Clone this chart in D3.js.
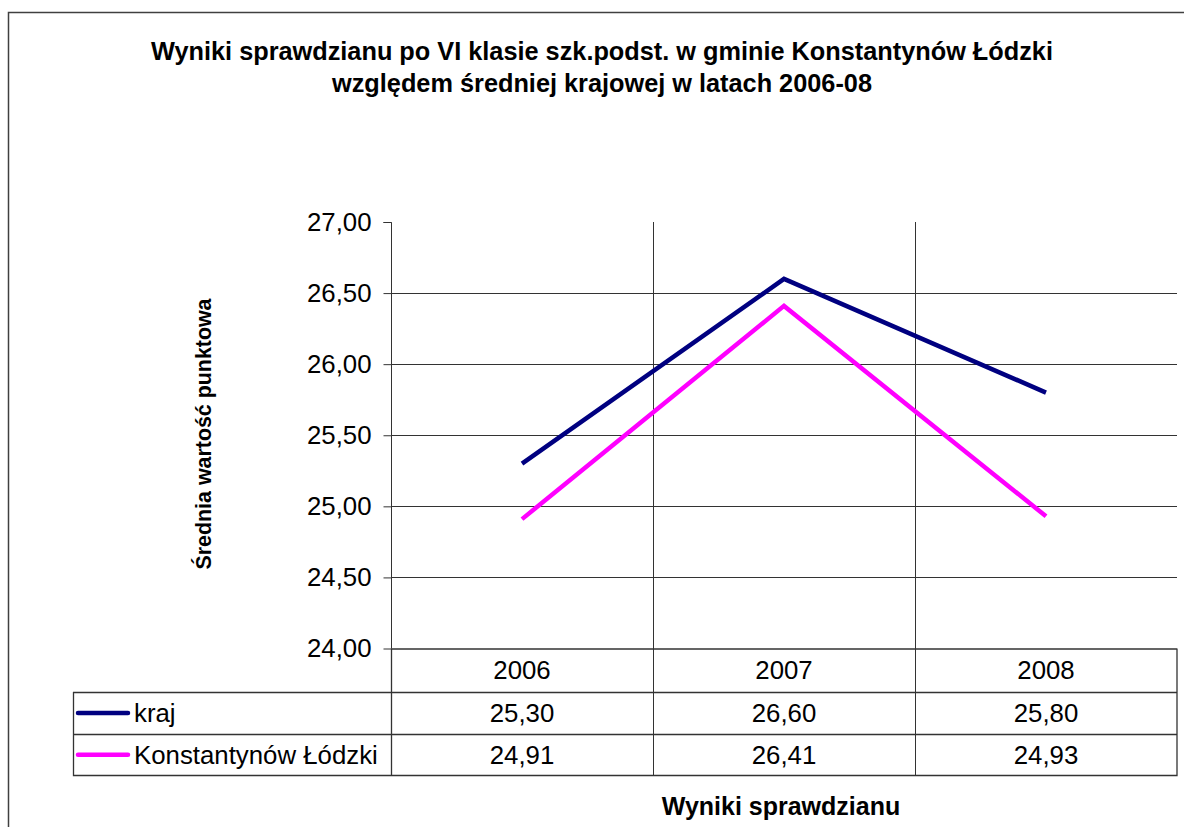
<!DOCTYPE html>
<html>
<head>
<meta charset="utf-8">
<script src="https://cdn.jsdelivr.net/npm/d3@7"></script>
<style>
  body { margin: 0; background: #fff; }
  svg { display: block; font-family: "Liberation Sans", Arial, sans-serif; }
</style>
</head>
<body>
<div id="chart"></div>
<script>
const width = 1184;
const height = 827;

// dane
const years = ["2006", "2007", "2008"];
const krajValues = [25.30, 26.60, 25.80];
const konstValues = [24.91, 26.41, 24.93];
const yTicks = [24.0, 24.5, 25.0, 25.5, 26.0, 26.5, 27.0];
const series = [
  { name: "kraj", values: krajValues, color: "#000080" },
  { name: "Konstantynów Łódzki", values: konstValues, color: "#ff00ff" }
];

const plot = { left: 391, right: 1177, top: 222, bottom: 648.5 };
const tableLeft = 73;
const rowH = [43.5, 42, 41.5];

const fmt = v => d3.format(".2f")(v).replace(".", ",");

const svg = d3.select("#chart").append("svg")
  .attr("width", width)
  .attr("height", height);

// ramka całego wykresu
svg.append("rect")
  .attr("x", 8.5).attr("y", 12.5)
  .attr("width", width + 10).attr("height", height + 10)
  .attr("fill", "none")
  .attr("stroke", "#404040")
  .attr("stroke-width", 1.5);

// tytuł
const title = svg.append("text")
  .attr("text-anchor", "middle")
  .attr("font-weight", "bold")
  .attr("font-size", 25.3);
title.append("tspan").attr("x", 602).attr("y", 60)
  .text("Wyniki sprawdzianu po VI klasie szk.podst. w gminie Konstantynów Łódzki");
title.append("tspan").attr("x", 602).attr("y", 92)
  .text("względem średniej krajowej w latach 2006-08");

// skale
const x = d3.scaleBand().domain(years).range([plot.left, plot.right]);
const y = d3.scaleLinear().domain([24, 27]).range([plot.bottom, plot.top]);

// linie siatki poziome
svg.append("g")
  .selectAll("line")
  .data(yTicks.slice(1, -1))
  .enter().append("line")
  .attr("x1", plot.left).attr("x2", plot.right)
  .attr("y1", d => Math.round(y(d)) + 0.5).attr("y2", d => Math.round(y(d)) + 0.5)
  .attr("stroke", "#333")
  .attr("stroke-width", 1);

// linie siatki pionowe (granice kategorii) przez wykres i tabelę
const tableBottom = plot.bottom + d3.sum(rowH);
svg.append("g")
  .selectAll("line")
  .data(years.slice(1))
  .enter().append("line")
  .attr("x1", d => Math.round(x(d)) + 0.5).attr("x2", d => Math.round(x(d)) + 0.5)
  .attr("y1", plot.top).attr("y2", tableBottom)
  .attr("stroke", "#333");

// oś Y
const yAxis = d3.axisLeft(y)
  .tickValues(yTicks)
  .tickFormat(fmt)
  .tickSize(8)
  .tickPadding(12);
const gy = svg.append("g")
  .attr("transform", `translate(${plot.left + 0.5},0)`)
  .call(yAxis);
gy.select(".domain").attr("stroke", "#333").attr("d", `M-8,${plot.top + 0.5}H0V${plot.bottom}`);
gy.selectAll(".tick line").attr("stroke", "#333");
gy.selectAll(".tick text")
  .attr("font-size", 25.8)
  .attr("font-family", "Liberation Sans, Arial, sans-serif")
  .attr("fill", "#000");

// tytuł osi Y
svg.append("text")
  .attr("transform", "translate(211,434) rotate(-90)")
  .attr("text-anchor", "middle")
  .attr("font-weight", "bold")
  .attr("font-size", 21.4)
  .text("Średnia wartość punktowa");

// linie serii
const line = d3.line()
  .x((d, i) => x(years[i]) + x.bandwidth() / 2)
  .y(d => y(d));

svg.append("g")
  .selectAll("path")
  .data(series)
  .enter().append("path")
  .attr("d", d => line(d.values))
  .attr("fill", "none")
  .attr("stroke", d => d.color)
  .attr("stroke-width", 4.5)
  .attr("stroke-linejoin", "miter");

// tabela danych
const table = svg.append("g");
const rowTop = i => plot.bottom + d3.sum(rowH.slice(0, i));

// obramowanie tabeli
table.append("path")
  .attr("d", `M${plot.left + 0.5},${plot.bottom}V${tableBottom}H${plot.right}V${plot.bottom}` +
    `M${tableLeft + 0.5},${rowTop(1)}V${tableBottom}H${plot.left}` +
    `M${tableLeft},${rowTop(1) + 0.5}H${plot.right}` +
    `M${tableLeft},${rowTop(2) + 0.5}H${plot.right}` +
    `M${plot.left},${plot.bottom + 0.5}H${plot.right}`)
  .attr("fill", "none")
  .attr("stroke", "#333")
  .attr("stroke-width", 1.3);

const cellFont = 25.8;

// nagłówki lat
table.append("g")
  .selectAll("text")
  .data(years)
  .enter().append("text")
  .attr("x", d => x(d) + x.bandwidth() / 2)
  .attr("y", rowTop(0) + rowH[0] / 2 + 9)
  .attr("text-anchor", "middle")
  .attr("font-size", cellFont)
  .text(d => d);

// wiersze serii
series.forEach((s, si) => {
  const top = rowTop(si + 1);
  const cy = top + rowH[si + 1] / 2;
  table.append("line")
    .attr("x1", 78).attr("x2", 128)
    .attr("y1", cy).attr("y2", cy)
    .attr("stroke", s.color)
    .attr("stroke-width", 4.5)
    .attr("stroke-linecap", "round");
  table.append("text")
    .attr("x", 134)
    .attr("y", cy + 9)
    .attr("font-size", cellFont)
    .text(s.name);
  table.append("g")
    .selectAll("text")
    .data(s.values)
    .enter().append("text")
    .attr("x", (d, i) => x(years[i]) + x.bandwidth() / 2)
    .attr("y", cy + 9)
    .attr("text-anchor", "middle")
    .attr("font-size", cellFont)
    .text(d => fmt(d));
});

// tytuł osi X
svg.append("text")
  .attr("x", 781)
  .attr("y", 815)
  .attr("text-anchor", "middle")
  .attr("font-weight", "bold")
  .attr("font-size", 25)
  .text("Wyniki sprawdzianu");
</script>
</body>
</html>
